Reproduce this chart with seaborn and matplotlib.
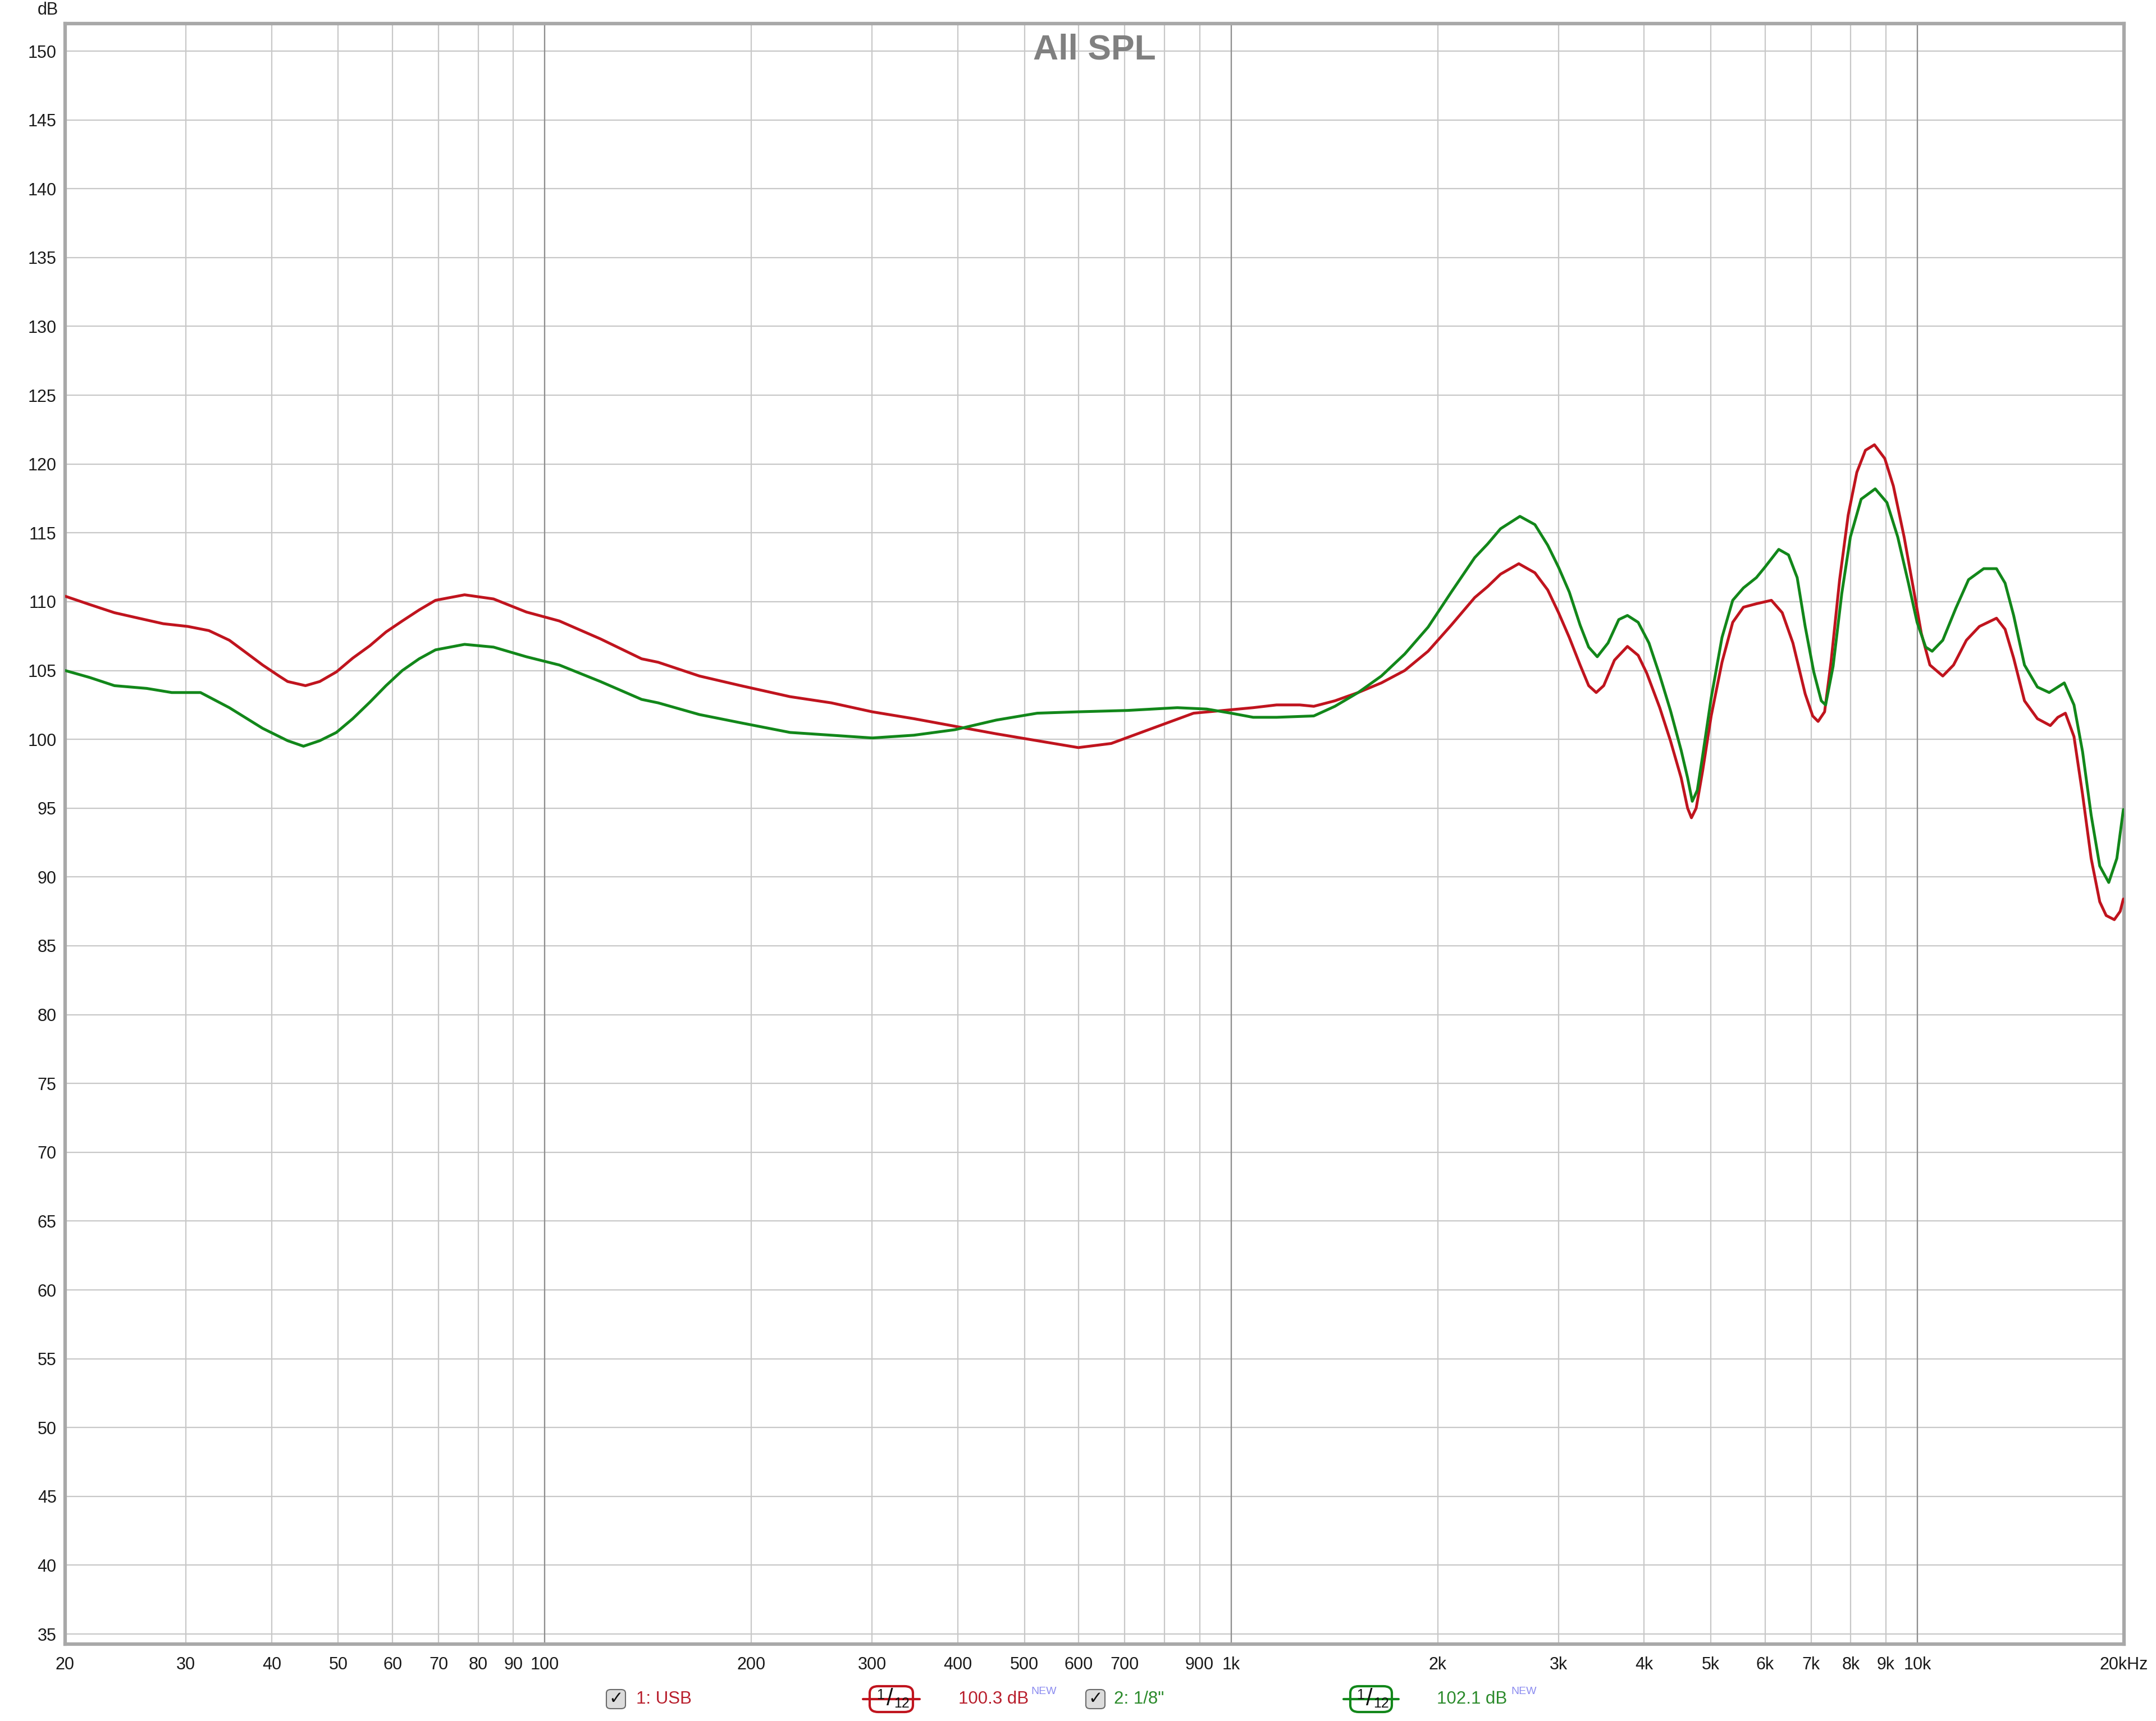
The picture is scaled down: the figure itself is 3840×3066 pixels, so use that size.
import numpy as np
import pandas as pd
import seaborn as sns
import matplotlib.pyplot as plt
from matplotlib.patches import FancyBboxPatch
from matplotlib.lines import Line2D

# measurement 1: USB
freq_usb = [20, 21.7, 23.6, 25.6, 27.8, 30.2, 32.4, 34.7, 36.7, 38.8, 41.0, 42.2, 44.8, 47.0,
            49.7, 52.5, 55.6, 58.7, 62.0, 65.6, 69.3, 76.4, 84.2, 94.0,
            105, 120.5, 138.4, 146.3, 168, 193, 227.7, 261.5, 300, 345, 396, 455, 522, 599,
            669, 768, 882, 1000, 1077, 1165, 1260, 1320, 1417, 1532, 1656, 1791, 1937, 2094,
            2265, 2366, 2470, 2626, 2772, 2894, 3001, 3111, 3226, 3320, 3405, 3492, 3620,
            3781, 3920, 4035, 4214, 4368, 4528, 4627, 4687, 4762, 4866, 5008, 5193, 5383,
            5580, 5828, 6129, 6356, 6588, 6865, 7040, 7169, 7327, 7486, 7706, 7931, 8164,
            8403, 8661, 8967, 9229, 9568, 9883, 10136, 10432, 10893, 11294, 11791, 12316,
            13044, 13425, 13817, 14328, 14963, 15625, 16025, 16436, 16917, 17411, 17920,
            18444, 18847, 19369, 19752, 19966]
spl_usb = [110.4, 109.8, 109.2, 108.8, 108.4, 108.2, 107.9, 107.2, 106.3, 105.4, 104.6, 104.2,
           103.9, 104.2, 104.9, 105.9, 106.8, 107.8, 108.6, 109.4, 110.1, 110.5,
           110.2, 109.25, 108.6, 107.3, 105.85, 105.6, 104.6, 103.9, 103.1, 102.65, 102.0,
           101.5, 100.95, 100.4, 99.9, 99.4, 99.7, 100.8, 101.9, 102.15, 102.3, 102.5, 102.5,
           102.4, 102.8, 103.4, 104.1, 105.0, 106.4, 108.3, 110.3, 111.1, 112.0, 112.76,
           112.1, 110.85, 109.2, 107.4, 105.4, 103.9, 103.4, 103.9, 105.75, 106.75, 106.1,
           104.8, 102.3, 99.9, 97.2, 95.0, 94.3, 95.0, 97.7, 101.7, 105.6, 108.5, 109.6,
           109.85, 110.1, 109.2, 107.0, 103.3, 101.7, 101.3, 102.0, 105.6, 111.6, 116.3,
           119.4, 121.0, 121.4, 120.4, 118.4, 114.7, 110.8, 107.7, 105.4, 104.6, 105.4,
           107.2, 108.2, 108.8, 108.0, 105.9, 102.8, 101.5, 101.0, 101.6, 101.9, 100.2,
           96.0, 91.35, 88.2, 87.2, 86.9, 87.5, 88.4]

# measurement 2: 1/8"
freq_jack = [20, 21.7, 23.6, 26.3, 28.6, 31.5, 34.7, 38.8, 42.2, 44.5, 47.0, 49.7, 52.5, 55.6,
             58.7, 62.0, 65.6, 69.3, 76.4, 84.2,
             94.0, 105, 120.5, 138.4, 146.3, 168, 193, 227.7, 261.5, 300, 345, 396, 455, 522,
             599, 707, 835, 921.6, 1000, 1077, 1165, 1320, 1417, 1532, 1656, 1791, 1937, 2094,
             2265, 2366, 2470, 2636, 2772, 2894, 3001, 3111, 3226, 3320, 3417, 3543, 3673,
             3781, 3920, 4064, 4214, 4368, 4528, 4627, 4700, 4780, 4866, 5008, 5193, 5383,
             5580, 5828, 5996, 6282, 6491, 6683, 6865, 7065, 7246, 7352, 7539, 7762, 7989,
             8283, 8683, 9032, 9365, 9707, 9993, 10286, 10511, 10893, 11375, 11877, 12497,
             13044, 13425, 13817, 14328, 14963, 15568, 16376, 16917, 17411, 17920, 18444,
             19010, 19534, 19966]
spl_jack = [105.0, 104.5, 103.9, 103.7, 103.4, 103.4, 102.3, 100.8, 99.9, 99.5, 99.9, 100.5,
            101.5, 102.7, 103.9, 105.0, 105.85, 106.5,
            106.9, 106.7, 106.0, 105.4, 104.2, 102.9, 102.65, 101.8, 101.2, 100.5, 100.3,
            100.1, 100.3, 100.7, 101.4, 101.9, 102.0, 102.1, 102.3, 102.2, 101.9, 101.6,
            101.6, 101.7, 102.4, 103.4, 104.6, 106.2, 108.15, 110.7, 113.2, 114.2, 115.3,
            116.2, 115.6, 114.1, 112.5, 110.7, 108.3, 106.7, 106.0, 107.0, 108.7, 109.0,
            108.5, 107.0, 104.65, 102.1, 99.2, 97.2, 95.5, 96.3, 98.8, 103.0, 107.4, 110.1,
            111.0, 111.75, 112.5, 113.8, 113.4, 111.75, 108.2, 104.9, 102.8, 102.5, 105.3,
            110.6, 114.7, 117.45, 118.2, 117.2, 114.7, 111.35, 108.5, 106.7, 106.4, 107.2,
            109.5, 111.6, 112.4, 112.4, 111.35, 109.0, 105.4, 103.8, 103.4, 104.1, 102.5,
            99.1, 94.5, 90.8, 89.6, 91.35, 94.9]

tick_freqs = [20, 30, 40, 50, 60, 70, 80, 90, 100, 200, 300, 400, 500, 600, 700, 800, 900,
              1000, 2000, 3000, 4000, 5000, 6000, 7000, 8000, 9000, 10000, 20000]
tick_labels = ['20', '30', '40', '50', '60', '70', '80', '90', '100', '200', '300', '400',
               '500', '600', '700', '', '900', '1k', '2k', '3k', '4k', '5k', '6k', '7k', '8k',
               '9k', '10k', '20kHz']
db_ticks = list(range(35, 151, 5))

red = '#c0141e'
green = '#12871a'

df = pd.concat([
    pd.DataFrame({'freq': freq_usb, 'spl': spl_usb, 'trace': '1: USB'}),
    pd.DataFrame({'freq': freq_jack, 'spl': spl_jack, 'trace': '2: 1/8"'}),
])

sns.set_style('white')
plt.rcParams['font.family'] = ['Liberation Sans', 'DejaVu Sans']

fig = plt.figure(figsize=(38.4, 30.66), dpi=100)
ax = fig.add_axes([0.0302, 0.0447, 0.9549, 0.9416])

sns.lineplot(data=df, x='freq', y='spl', hue='trace', palette=[red, green],
             sort=False, estimator=None, linewidth=3.6, legend=False, ax=ax, zorder=5)
for ln in ax.lines:
    ln.set_solid_joinstyle('round')
    ln.set_solid_capstyle('round')

ax.set_xscale('log')
ax.set_xlim(20, 20000)
ax.set_ylim(34.27, 152)

ax.set_xticks(tick_freqs)
ax.set_xticklabels(tick_labels)
ax.xaxis.set_minor_locator(plt.NullLocator())
ax.set_yticks(db_ticks)
ax.set_yticklabels([str(v) for v in db_ticks])
ax.tick_params(axis='both', length=0, labelsize=22, colors='#1a1a1a')
ax.tick_params(axis='x', pad=16)
ax.tick_params(axis='y', pad=11)

ax.grid(True, which='major', color='#c8c8c8', linewidth=1.6)
for dec in [100, 1000, 10000]:
    ax.axvline(dec, color='#8e8e8e', linewidth=1.6, zorder=1)

for s in ax.spines.values():
    s.set_color('#a8a8a8')
    s.set_linewidth(4.5)

ax.set_xlabel('')
ax.set_ylabel('')
ax.text(0.5, 0.9837, 'All SPL', transform=ax.transAxes, ha='center', va='center',
        fontsize=45, fontweight='bold', color='#808080', zorder=6)

fig.text(85 / 3840, 1 - 18 / 3066, 'dB', ha='center', va='center', fontsize=22, color='#1a1a1a')

# legend strip along the bottom
W, H = 3840.0, 3066.0
yc = 1 - 3027 / H


def checkbox(xc):
    s = 34
    fig.patches.append(FancyBboxPatch(((xc - s / 2) / W, yc - (s / 2) / H), s / W, s / H,
                                      boxstyle='round,pad=0,rounding_size=0.002',
                                      transform=fig.transFigure, facecolor='#dcdcdc',
                                      edgecolor='#6a6a6a', linewidth=1.5))
    fig.text(xc / W, yc, '\u2713', ha='center', va='center', fontsize=22,
             fontweight='bold', color='#111111', family=['DejaVu Sans'])


def smoothing_box(x0, x1, col):
    bw = x1 - x0 - 24
    bh = 46
    fig.add_artist(Line2D([x0 / W, x1 / W], [yc, yc], transform=fig.transFigure,
                          color=col, linewidth=3))
    fig.patches.append(FancyBboxPatch(((x0 + 12) / W, yc - (bh / 2) / H), bw / W, bh / H,
                                      boxstyle='round,pad=0,rounding_size=0.004',
                                      transform=fig.transFigure, facecolor='white',
                                      edgecolor=col, linewidth=3))
    xm = (x0 + x1) / 2
    fig.text((xm - 19) / W, yc + 7 / H, '1', ha='center', va='center', fontsize=18, color='#111')
    fig.text((xm - 3) / W, yc, '/', ha='center', va='center', fontsize=30, color='#111')
    fig.text((xm + 18) / W, yc - 8 / H, '12', ha='center', va='center', fontsize=18, color='#111')


checkbox(1097)
fig.text(1133 / W, yc, '1: USB', ha='left', va='center', fontsize=22.5, color='#b81e2c')
smoothing_box(1537, 1638, red)
fig.text(1707 / W, yc, '100.3 dB', ha='left', va='center', fontsize=22.5, color='#b81e2c')
fig.text(1836 / W, yc + 14 / H, 'NEW', ha='left', va='center', fontsize=14, color='#8c8cf0')

checkbox(1951)
fig.text(1984 / W, yc, '2: 1/8"', ha='left', va='center', fontsize=22.5, color='#2a8a2a')
smoothing_box(2393, 2491, green)
fig.text(2559 / W, yc, '102.1 dB', ha='left', va='center', fontsize=22.5, color='#2a8a2a')
fig.text(2691 / W, yc + 14 / H, 'NEW', ha='left', va='center', fontsize=14, color='#8c8cf0')

fig.savefig('out.png', dpi=100, facecolor='white')
